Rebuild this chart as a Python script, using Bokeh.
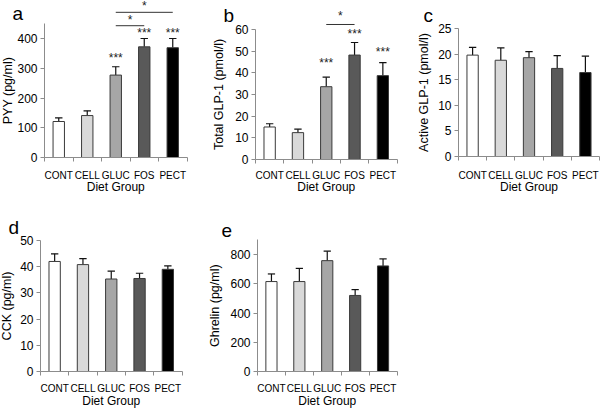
import math
from bokeh.plotting import figure
from bokeh.models import Range1d, FixedTicker
from bokeh.layouts import row, column
from bokeh.embed import file_html
from bokeh.resources import INLINE
from bokeh.core.properties import value

# ---------------- data ----------------
groups = ["CONT", "CELL", "GLUC", "FOS", "PECT"]
bar_colors = ["#ffffff", "#d9d9d9", "#a6a6a6", "#595959", "#000000"]

pyy = [121, 141, 277, 372, 369]
pyy_err = [12, 16, 28, 28, 31]
pyy_ticks = [0, 100, 200, 300, 400]

total_glp1 = [15.0, 12.4, 33.6, 48.2, 38.7]
total_glp1_err = [1.5, 1.6, 4.4, 5.8, 6.0]
total_glp1_ticks = [0, 10, 20, 30, 40, 50, 60]

active_glp1 = [19.8, 18.8, 19.3, 17.2, 16.4]
active_glp1_err = [1.5, 2.4, 1.2, 2.5, 3.2]
active_glp1_ticks = [0, 5, 10, 15, 20, 25]

cck = [42.0, 40.8, 35.3, 35.5, 39.0]
cck_err = [2.9, 2.3, 3.0, 2.0, 1.3]
cck_ticks = [0, 10, 20, 30, 40, 50]

ghrelin = [615, 615, 758, 520, 722]
ghrelin_err = [52, 90, 65, 40, 48]
ghrelin_ticks = [0, 200, 400, 600, 800]

# significance marks
pyy_stars = [("GLUC", 333, "***"), ("FOS", 418, "***"), ("PECT", 418, "***")]
pyy_brackets = [("GLUC", "FOS", 443, 462), ("GLUC", "PECT", 488, 508)]
glp1_stars = [("GLUC", 44.5, "***"), ("FOS", 58.0, "***"), ("PECT", 49.6, "***")]
glp1_brackets = [("GLUC", "FOS", 62.3, 66.4)]

FONT = "Liberation Sans"
AXIS_GRAY = "#8c8c8c"


def panel(letter, vals, errs, ylabel, yticks, ymax, geo, stars=(), brackets=()):
    (W, H, ax, zero, cw, s, lab_off, let_off, let_base,
     cat_standoff, diet_off) = geo
    x_range = Range1d(-ax / cw, (W - ax) / cw)
    y_range = Range1d(-(H - zero) / s, zero / s)
    p = figure(width=W, height=H, x_range=x_range, y_range=y_range,
               output_backend="svg", toolbar_location=None,
               min_border_left=0, min_border_right=0,
               min_border_top=0, min_border_bottom=0)
    p.outline_line_color = None
    p.xgrid.visible = False
    p.ygrid.visible = False
    p.background_fill_color = "white"
    p.border_fill_color = "white"

    xs = [i + 0.5 for i in range(len(groups))]
    xpos = dict(zip(groups, xs))
    tops = [v + e for v, e in zip(vals, errs)]
    p.segment(x0=xs, y0=vals, x1=xs, y1=tops, line_color="#111111", line_width=1.2)
    p.segment(x0=[x - 0.13 for x in xs], y0=tops, x1=[x + 0.13 for x in xs],
              y1=tops, line_color="#111111", line_width=1.2)
    p.vbar(x=xs, top=vals, width=0.4, fill_color=bar_colors,
           line_color="#3a3a3a", line_width=1)

    for g, y, t in stars:
        p.text(x=[xpos[g]], y=[y], text=[t], text_align="center",
               text_baseline="middle", text_font_size="12px",
               text_font=value(FONT), text_color="#222222")
    for g0, g1, yl, ys in brackets:
        p.segment(x0=[xpos[g0]], y0=[yl], x1=[xpos[g1]], y1=[yl],
                  line_color="#333333", line_width=1)
        p.text(x=[(xpos[g0] + xpos[g1]) / 2], y=[ys], text=["*"],
               text_align="center", text_baseline="middle",
               text_font_size="12px", text_font=value(FONT),
               text_color="#222222")

    # x axis (categories), drawn at y = 0
    xa = p.xaxis[0]
    xa.fixed_location = 0
    xa.bounds = (0, 5)
    xa.ticker = FixedTicker(ticks=xs, minor_ticks=[0, 1, 2, 3, 4, 5])
    xa.major_label_overrides = {x: g for x, g in zip(xs, groups)}
    xa.major_tick_out = 0
    xa.major_tick_in = 0
    xa.minor_tick_out = 4
    xa.minor_tick_in = 0
    xa.axis_line_color = AXIS_GRAY
    xa.minor_tick_line_color = AXIS_GRAY
    xa.major_label_text_font = FONT
    xa.major_label_text_font_size = "10px"
    xa.major_label_text_color = "black"
    xa.major_label_standoff = cat_standoff

    # y axis, drawn at x = 0
    ya = p.yaxis[0]
    ya.fixed_location = 0
    ya.bounds = (0, ymax)
    ya.ticker = FixedTicker(ticks=yticks, minor_ticks=[])
    ya.major_tick_out = 4
    ya.major_tick_in = 0
    ya.minor_tick_line_color = None
    ya.axis_line_color = AXIS_GRAY
    ya.major_tick_line_color = AXIS_GRAY
    ya.major_label_text_font = FONT
    ya.major_label_text_font_size = "12px"
    ya.major_label_text_color = "black"
    ya.major_label_standoff = 3

    # axis titles and panel letter
    p.text(x=[-lab_off / cw], y=[ymax / 2], text=[ylabel], angle=math.pi / 2,
           text_align="center", text_baseline="middle",
           text_font=value(FONT), text_font_size="12.5px", text_color="black")
    p.text(x=[2.5], y=[-diet_off / s], text=["Diet Group"], text_align="center",
           text_baseline="middle", text_font=value(FONT),
           text_font_size="12px", text_color="black")
    p.text(x=[-let_off / cw], y=[(zero - let_base) / s], text=[letter],
           text_align="left", text_baseline="alphabetic",
           text_font=value(FONT), text_font_size="19px", text_color="black")
    return p


# geometry: width, height, axis x, zero y, px per category, px per unit,
#           y-label offset, letter offset, letter baseline,
#           category standoff, "Diet Group" offset below zero
geo_a = (200, 200, 44, 157, 28.5, 0.2975, 37, 32, 13, 8, 29)
geo_b = (200, 200, 55, 159, 28.3, 2.167, 37, 32, 15, 6, 27)
geo_c = (200, 200, 58, 156, 28.2, 5.12, 35, 35, 15, 9, 30)
geo_d = (200, 208, 40, 171, 28.3, 2.62, 34, 32, 27, 7, 29)
geo_e = (200, 208, 57, 171, 27.9, 0.14625, 43, 36, 30, 7, 29)

pa = panel("a", pyy, pyy_err, "PYY (pg/ml)", pyy_ticks, 450, geo_a,
           pyy_stars, pyy_brackets)
pb = panel("b", total_glp1, total_glp1_err, "Total GLP-1 (pmol/l)",
           total_glp1_ticks, 60, geo_b, glp1_stars, glp1_brackets)
pc = panel("c", active_glp1, active_glp1_err, "Active GLP-1 (pmol/l)",
           active_glp1_ticks, 25, geo_c)
pd = panel("d", cck, cck_err, "CCK (pg/ml)", cck_ticks, 50, geo_d)
pe = panel("e", ghrelin, ghrelin_err, "Ghrelin (pg/ml)", ghrelin_ticks,
           900, geo_e)

layout = column(row(pa, pb, pc), row(pd, pe))
open("out.html", "w").write(file_html(layout, INLINE))
